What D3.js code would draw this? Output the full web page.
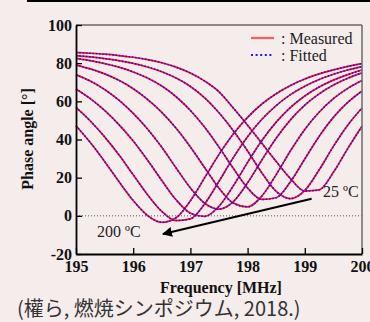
<!DOCTYPE html>
<html><head><meta charset="utf-8">
<script src="https://cdn.jsdelivr.net/npm/d3@7"></script>
<style>
html,body{margin:0;padding:0;background:#f5ecec;}
svg{display:block;}
</style></head><body>
<svg id="chart" width="370" height="322"></svg>
<script>
// ---- data ----
const freq = [195,195.25,195.5,195.75,196,196.25,196.5,196.75,197,197.25,197.5,197.75,198,198.25,198.5,198.75,199,199.25,199.5,199.75,200];
const t25  = [85.6,85.2,84.7,84.0,83.1,81.9,80.2,77.9,74.8,70.6,65.0,56.5,47.5,38.0,28.5,19.5,13.0,13.6,22.8,35.2,46.9];
const t50  = [84.0,83.3,82.4,81.3,79.9,78.0,75.5,72.2,67.8,61.8,54.0,44.6,34.0,22.5,12.8,9.0,13.3,24.0,36.4,47.5,56.5];
const t75  = [82.5,81.3,79.8,77.9,75.4,72.2,68.0,62.4,55.2,46.4,36.0,24.9,14.6,8.6,9.5,17.9,29.8,41.6,51.6,59.4,65.4];
const t100 = [79.0,77.0,74.4,71.0,66.6,61.0,54.2,45.9,36.1,25.2,14.5,6.7,4.7,10.4,21.6,34.1,45.3,54.3,61.4,66.8,70.9];
const t125 = [74.0,70.6,66.2,60.6,53.7,45.5,35.9,25.1,14.6,6.6,3.5,7.4,17.3,29.3,40.7,50.3,58.0,63.9,68.5,72.1,74.9];
const t150 = [66.5,61.4,55.2,47.8,39.2,29.2,18.5,8.4,1.4,-0.3,5.0,15.7,28.0,39.5,49.1,56.8,62.8,67.5,71.1,74.0,76.4];
const t175 = [56.8,49.7,41.4,32.0,21.5,11.1,2.3,-2.5,-1.6,6.3,18.1,30.5,41.5,50.6,57.8,63.5,67.9,71.4,74.2,76.4,78.2];
const t200 = [47.2,38.4,28.5,18.0,8.0,0.2,-3.4,-1.0,7.9,20.0,32.2,42.9,51.6,58.6,64.0,68.3,71.7,74.4,76.5,78.3,79.8];
const measured = [t25,t50,t75,t100,t125,t150,t175,t200];
const fitted   = [t25,t50,t75,t100,t125,t150,t175,t200];
const xTicks = [195,196,197,198,199,200];
const yTicks = [-20,0,20,40,60,80,100];
const legendLabels = [": Measured", ": Fitted"];
const labelHigh = "25 ºC", labelLow = "200 ºC";
const arrowFrom = [199.12, 9], arrowTo = [196.52, -9.5];
const xTitle = "Frequency [MHz]", yTitle = "Phase angle [°]";
const caption = "(權ら, 燃焼シンポジウム, 2018.)";

// ---- drawing ----
const svg = d3.select("#chart");
const W = 370, H = 322;
const x = d3.scaleLinear().domain([195,200]).range([76,362]);
const y = d3.scaleLinear().domain([-20,100]).range([254,25]);
const serif = "'Liberation Serif','Times New Roman',serif";

svg.append("rect").attr("width",W).attr("height",H).attr("fill","#f5ecec");
svg.append("line").attr("x1",27).attr("x2",W).attr("y1",1).attr("y2",1)
  .attr("stroke","#000").attr("stroke-width",2);

// zero dotted line
svg.append("line").attr("x1",x(195)).attr("x2",x(200)).attr("y1",y(0)).attr("y2",y(0))
  .attr("stroke","#555").attr("stroke-width",1).attr("stroke-dasharray","1,2");

// curves
const line = d3.line().x((d,i)=>x(freq[i])).y(d=>y(d)).curve(d3.curveMonotoneX);
const gc = svg.append("g");
measured.forEach(s=>{
  gc.append("path").attr("d",line(s)).attr("fill","none")
    .attr("stroke","#ff1010").attr("stroke-width",1.7);
});
fitted.forEach(s=>{
  gc.append("path").attr("d",line(s)).attr("fill","none")
    .attr("stroke","#1010ff").attr("stroke-width",1.5).attr("stroke-dasharray","1.5,1.8");
});

// frame: top/right grey
svg.append("line").attr("x1",x(195)).attr("x2",x(200)).attr("y1",y(100)).attr("y2",y(100))
  .attr("stroke","#6a6a6a").attr("stroke-width",1.5);
svg.append("line").attr("x1",x(200)).attr("x2",x(200)).attr("y1",y(100)).attr("y2",y(-20))
  .attr("stroke","#6a6a6a").attr("stroke-width",1.5);

// axes
const ax = svg.append("g").attr("transform",`translate(0,${y(-20)})`)
  .call(d3.axisBottom(x).tickValues(xTicks).tickFormat(d3.format("d")).tickSize(-6).tickSizeOuter(0).tickPadding(6.5));
const ay = svg.append("g").attr("transform",`translate(${x(195)},0)`)
  .call(d3.axisLeft(y).tickValues(yTicks).tickFormat(d=>String(d)).tickSize(-6).tickSizeOuter(0).tickPadding(4));
[ax,ay].forEach(g=>{
  g.select(".domain").attr("stroke","#000").attr("stroke-width",1.8);
  g.selectAll(".tick line").attr("stroke","#000").attr("stroke-width",1.3);
  g.selectAll(".tick text").attr("fill","#111").style("font-family",serif)
    .style("font-weight","bold").style("font-size","16px");
});

// axis titles
svg.append("text").attr("x",221).attr("y",293).attr("text-anchor","middle")
  .style("font-family",serif).style("font-weight","bold").style("font-size","16px")
  .attr("fill","#111").text(xTitle);
svg.append("text").attr("transform","translate(33,139) rotate(-90)").attr("text-anchor","middle")
  .style("font-family",serif).style("font-weight","bold").style("font-size","16px")
  .attr("fill","#111").text(yTitle);

// legend
svg.append("line").attr("x1",251).attr("x2",274).attr("y1",38).attr("y2",38)
  .attr("stroke","#ff5c5c").attr("stroke-width",2.2);
svg.append("line").attr("x1",251).attr("x2",274).attr("y1",55).attr("y2",55)
  .attr("stroke","#1a1aff").attr("stroke-width",2).attr("stroke-dasharray","2,2.6");
svg.selectAll(".leg").data(legendLabels).enter().append("text")
  .attr("x",281).attr("y",(d,i)=>44+i*16.5)
  .style("font-family",serif).style("font-size","16px").attr("fill","#222").text(d=>d);

// annotations
svg.append("text").attr("x",323).attr("y",197).style("font-family",serif).style("font-size","16px")
  .attr("fill","#222").text(labelHigh);
svg.append("text").attr("x",97).attr("y",237).style("font-family",serif).style("font-size","16px")
  .attr("fill","#222").text(labelLow);

// arrow
svg.append("defs").append("marker").attr("id","ah").attr("viewBox","0 0 10 10")
  .attr("refX",9).attr("refY",5).attr("markerWidth",5).attr("markerHeight",5)
  .attr("orient","auto").attr("markerUnits","strokeWidth")
  .append("path").attr("d","M0,0 L10,5 L0,10 Z").attr("fill","#000");
svg.append("line").attr("x1",x(arrowFrom[0])).attr("y1",y(arrowFrom[1]))
  .attr("x2",x(arrowTo[0])).attr("y2",y(arrowTo[1]))
  .attr("stroke","#000").attr("stroke-width",2).attr("marker-end","url(#ah)");

// caption
svg.append("text").attr("x",17).attr("y",315.5)
  .style("font-family","'Noto Sans CJK JP','Noto Sans CJK SC',sans-serif").style("font-size","20px")
  .attr("fill","#333").text(caption);
</script>
</body></html>
